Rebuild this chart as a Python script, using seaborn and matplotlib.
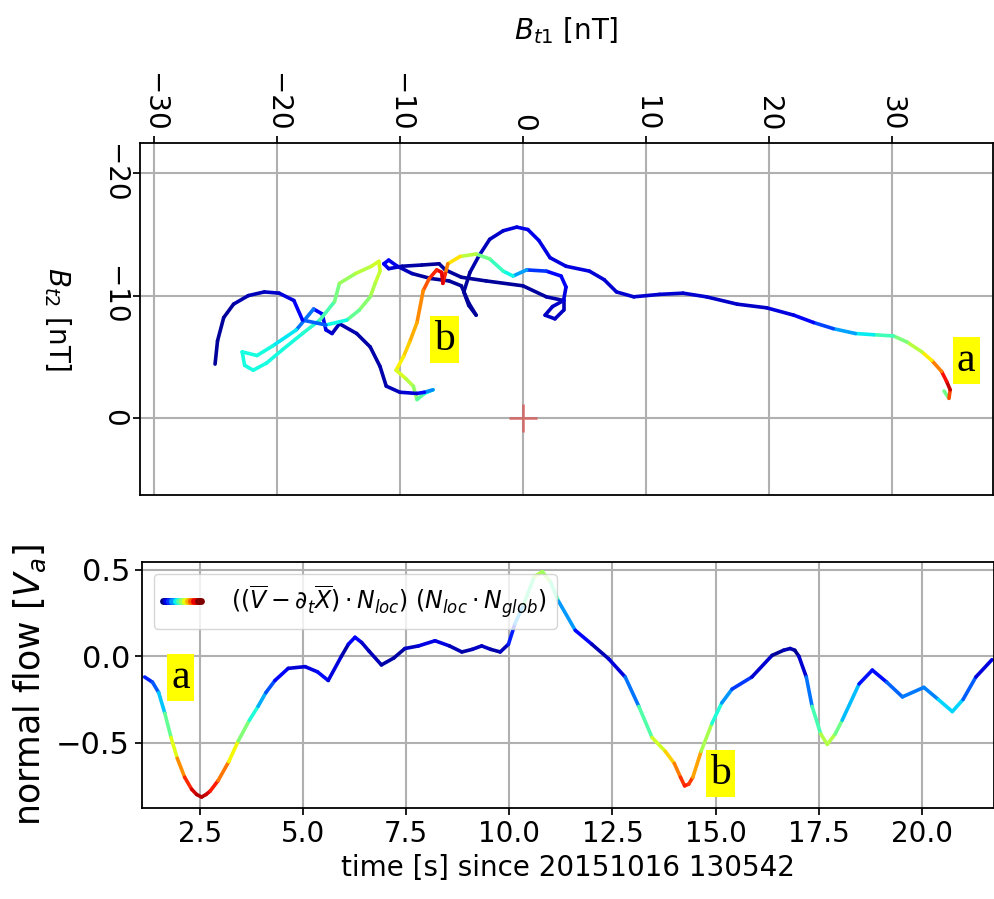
import numpy as np
import matplotlib
matplotlib.use("Agg")
import matplotlib.pyplot as plt
import seaborn as sns
from matplotlib.collections import LineCollection
from matplotlib.colors import Normalize
from matplotlib.legend_handler import HandlerBase

# --- bottom panel: normal flow vs time ---
time_s = [1.16, 1.35, 1.5, 1.65, 1.8, 1.95, 2.13, 2.3, 2.42, 2.54, 2.65, 2.75, 2.94, 3.2,
          3.43, 3.7, 3.91, 4.1, 4.32, 4.64, 5.05, 5.35, 5.61, 5.93, 6.1, 6.26, 6.42, 6.6,
          6.9, 7.2, 7.47, 7.8, 8.2, 8.55, 8.85, 9.1, 9.33, 9.55, 9.78, 9.98, 10.14, 10.35,
          10.6, 10.8, 11.0, 11.19, 11.6, 12.0, 12.41, 12.81, 13.14, 13.46, 13.78, 14.0,
          14.15, 14.25, 14.35, 14.45, 14.65, 14.91, 15.15, 15.4, 15.88, 16.37, 16.65, 16.81,
          16.92, 17.02, 17.2, 17.34, 17.55, 17.71, 17.9, 18.07, 18.48, 18.8, 19.15, 19.53,
          20.05, 20.4, 20.74, 21.0, 21.31, 21.7]
normal_flow = [-0.12, -0.15, -0.21, -0.33, -0.47, -0.59, -0.70, -0.77, -0.80, -0.815, -0.80,
               -0.78, -0.72, -0.61, -0.49, -0.37, -0.29, -0.21, -0.14, -0.07, -0.06, -0.09,
               -0.14, 0.0, 0.07, 0.11, 0.08, 0.03, -0.05, -0.01, 0.045, 0.06, 0.09, 0.06,
               0.025, 0.04, 0.06, 0.04, 0.025, 0.07, 0.19, 0.30, 0.46, 0.49, 0.43, 0.32,
               0.15, 0.07, -0.015, -0.12, -0.29, -0.47, -0.55, -0.62, -0.70, -0.75, -0.74,
               -0.70, -0.55, -0.39, -0.27, -0.19, -0.12, 0.005, 0.035, 0.045, 0.035, 0.0,
               -0.12, -0.29, -0.45, -0.51, -0.45, -0.37, -0.16, -0.08, -0.15, -0.235, -0.18,
               -0.25, -0.32, -0.25, -0.12, -0.02]

# --- top panel: hodogram (Bt1, Bt2) and |normal flow| used for the colour ---
bt1 = [34.2, 34.6, 34.7, 34.4, 34.0, 33.2, 32.4, 31.2, 30.1, 28.5, 27.0, 25.2, 23.6, 22.0,
       19.8, 17.4, 14.9, 13.0, 11.1, 9.0, 7.6, 6.6, 5.4, 3.5, 2.2, 1.3, 0.4, -0.5, -1.6,
       -2.7, -3.6, -4.3, -4.8, -4.4, -3.8, -4.4, -5.0, -6.0, -7.5, -9.0, -10.2, -10.9,
       -11.3, -10.9, -9.8, -8.2, -6.8, -6.3, -5.0, -3.0, 0.0, 1.9, 3.3, 3.3, 2.6, 1.8,
       2.4, 3.3, 3.5, 3.1, 1.9, 0.3, -0.8, -1.6, -2.7, -3.8, -5.1, -6.1, -6.3, -6.5, -6.6,
       -7.0, -7.6, -8.1, -8.6, -9.2, -9.7, -10.3, -9.5, -8.9, -8.6, -8.0, -7.3, -8.0,
       -8.6, -10.0, -11.1, -11.6, -12.4, -13.5, -14.9, -15.5, -16.0, -16.3, -17.0, -18.4,
       -20.3, -21.6, -22.8, -22.6, -21.9, -20.8, -19.5, -17.9, -16.5, -15.3, -14.9, -13.6,
       -12.3, -11.7, -11.6, -12.0, -12.4, -13.3, -14.3, -16.0, -17.9, -18.6, -19.8, -21.0,
       -22.3, -23.5, -24.3, -24.8, -25.0]
bt2 = [-2.2, -1.6, -2.3, -3.0, -3.8, -4.7, -5.4, -6.2, -6.7, -6.8, -6.9, -7.3, -7.8, -8.4,
       -9.0, -9.3, -9.9, -10.2, -10.1, -9.9, -10.3, -11.3, -12.0, -12.4, -13.1, -14.5, -15.4,
       -15.6, -15.3, -14.6, -13.2, -11.9, -10.3, -9.2, -8.4, -9.4, -10.8, -11.2, -11.4,
       -11.8, -12.4, -12.9, -12.6, -12.2, -12.4, -12.5, -12.6, -12.1, -11.5, -11.2, -10.8,
       -9.9, -9.6, -8.8, -8.1, -8.4, -9.1, -9.6, -10.7, -11.6, -12.0, -12.1, -11.6, -12.0,
       -13.0, -13.4, -13.2, -12.6, -11.8, -11.0, -11.9, -12.1, -11.4, -10.4, -7.8, -6.2,
       -5.0, -3.9, -3.2, -2.6, -1.5, -2.0, -2.3, -2.1, -2.0, -2.1, -2.6, -4.2, -5.8, -6.9,
       -7.7, -6.9, -7.2, -8.5, -8.9, -7.2, -5.9, -5.1, -5.4, -4.3, -3.9, -4.5, -5.6, -6.9,
       -8.0, -9.5, -11.0, -11.8, -12.4, -12.8, -12.0, -11.0, -9.9, -8.8, -8.0, -7.6, -8.0,
       -9.6, -10.2, -10.3, -10.0, -9.3, -8.2, -6.3, -4.4]
hodo_level = [0.20, 0.62, 0.80, 0.80, 0.72, 0.60, 0.52, 0.45, 0.40, 0.33, 0.28, 0.20, 0.13,
              0.08, 0.06, 0.05, 0.06, 0.06, 0.06, 0.06, 0.06, 0.06, 0.07, 0.07, 0.07, 0.08,
              0.08, 0.08, 0.06, 0.05, 0.04, 0.03, 0.02, 0.02, 0.02, 0.02, 0.02, 0.02, 0.02,
              0.03, 0.06, 0.10, 0.10, 0.08, 0.04, 0.02, 0.02, 0.02, 0.02, 0.02, 0.02, 0.03,
              0.04, 0.05, 0.05, 0.05, 0.05, 0.06, 0.08, 0.10, 0.12, 0.18, 0.30, 0.33, 0.38,
              0.45, 0.52, 0.62, 0.70, 0.78, 0.78, 0.76, 0.72, 0.67, 0.63, 0.60, 0.57, 0.54,
              0.50, 0.47, 0.43, 0.35, 0.30, 0.15, 0.08, 0.05, 0.04, 0.03, 0.03, 0.03, 0.04,
              0.05, 0.07, 0.09, 0.13, 0.28, 0.32, 0.32, 0.32, 0.32, 0.32, 0.32, 0.32, 0.33,
              0.35, 0.40, 0.44, 0.47, 0.50, 0.52, 0.51, 0.49, 0.46, 0.42, 0.38, 0.25, 0.12,
              0.08, 0.06, 0.05, 0.04, 0.03, 0.02, 0.02, 0.02]

legend_label = r'$((\overline{V}-\partial_t\overline{X})\cdot N_{loc})\ (N_{loc}\cdot N_{glob})$'

sns.set_theme(style="ticks", rc={
    "axes.grid": True, "grid.color": "#b0b0b0", "grid.linewidth": 1.5,
    "axes.edgecolor": "black", "axes.linewidth": 1.3,
    "xtick.color": "black", "ytick.color": "black",
    "xtick.major.size": 5, "ytick.major.size": 5,
    "text.color": "black", "axes.labelcolor": "black",
})
plt.rcParams["font.family"] = ["DejaVu Sans"]

cmap = plt.get_cmap("jet")
norm = Normalize(0, 0.85)


def colored_line(ax, x, y, c, lw):
    pts = np.column_stack([x, y])
    segs = np.stack([pts[:-1], pts[1:]], axis=1)
    c = np.asarray(c, dtype=float)
    lc = LineCollection(segs, cmap=cmap, norm=norm, linewidths=lw,
                        capstyle="round", joinstyle="round")
    lc.set_array((c[:-1] + c[1:]) / 2)
    ax.add_collection(lc)
    return lc


class GradientHandler(HandlerBase):
    def create_artists(self, legend, orig_handle, xdescent, ydescent, width, height,
                       fontsize, trans):
        xs = np.linspace(-xdescent, width - xdescent, 13)
        y = height / 2 - ydescent
        segs = [[(xs[i], y), (xs[i + 1], y)] for i in range(len(xs) - 1)]
        lc = LineCollection(segs, cmap=cmap, norm=Normalize(0, 1), linewidths=5,
                            transform=trans, capstyle="round")
        lc.set_array(np.linspace(0, 1, len(segs)))
        return [lc]


fig = plt.figure(figsize=(9.94, 8.99), dpi=100)
ax1 = fig.add_axes([0.1408, 0.4494, 0.8585, 0.3912])
ax2 = fig.add_axes([0.1426, 0.1009, 0.8574, 0.2740])

# hodogram
colored_line(ax1, bt1, bt2, hodo_level, 2.6)
sns.scatterplot(x=[0], y=[0], marker="+", s=420, color="#d9534f", alpha=0.7,
                linewidth=2, ax=ax1, legend=False)
ax1.set_xlim(-31.1, 38.2)
ax1.set_ylim(6.3, -22.45)
ax1.xaxis.tick_top()
ax1.xaxis.set_label_position("top")
ax1.set_xticks([-30, -20, -10, 0, 10, 20, 30])
ax1.set_yticks([-20, -10, 0])
ax1.tick_params(axis="x", labelrotation=-90, labelsize=20)
ax1.tick_params(axis="y", labelrotation=-90, labelsize=20)
for lab in ax1.get_yticklabels():
    lab.set_va("center")
ax1.set_xlabel(r"$B_{t1}$ [nT]", fontsize=20, labelpad=24)
ax1.set_ylabel(r"$B_{t2}$ [nT]", fontsize=20, rotation=-90, va="top", labelpad=20)
box = dict(facecolor="#ffff00", edgecolor="none", pad=3)
ax1.text(36.0, -4.7, "a", fontsize=30, family="Liberation Serif", ha="center",
         va="center", bbox=box)
ax1.text(-6.4, -6.4, "b", fontsize=30, family="Liberation Serif", ha="center",
         va="center", bbox=box)

# normal flow
lc2 = colored_line(ax2, time_s, normal_flow, np.abs(normal_flow), 2.6)
ax2.set_xlim(1.09, 21.75)
ax2.set_ylim(-0.88, 0.546)
ax2.set_xticks([2.5, 5.0, 7.5, 10.0, 12.5, 15.0, 17.5, 20.0])
ax2.set_yticks([-0.5, 0.0, 0.5])
ax2.tick_params(axis="x", labelsize=20)
ax2.tick_params(axis="y", labelsize=22)
ax2.set_xlabel("time [s] since 20151016 130542", fontsize=20)
ax2.set_ylabel(r"normal flow [$V_a$]", fontsize=25, labelpad=6)
ax2.text(2.04, -0.123, "a", fontsize=30, family="Liberation Serif", ha="center",
         va="center", bbox=box)
ax2.text(15.11, -0.68, "b", fontsize=30, family="Liberation Serif", ha="center",
         va="center", bbox=box)
ax2.legend([lc2], [legend_label], handler_map={LineCollection: GradientHandler()},
           loc="upper left", fontsize=17, handlelength=1.6, handletextpad=1.3,
           frameon=True, framealpha=0.8, edgecolor="#cccccc", fancybox=True)

fig.savefig("out.png", dpi=100)
